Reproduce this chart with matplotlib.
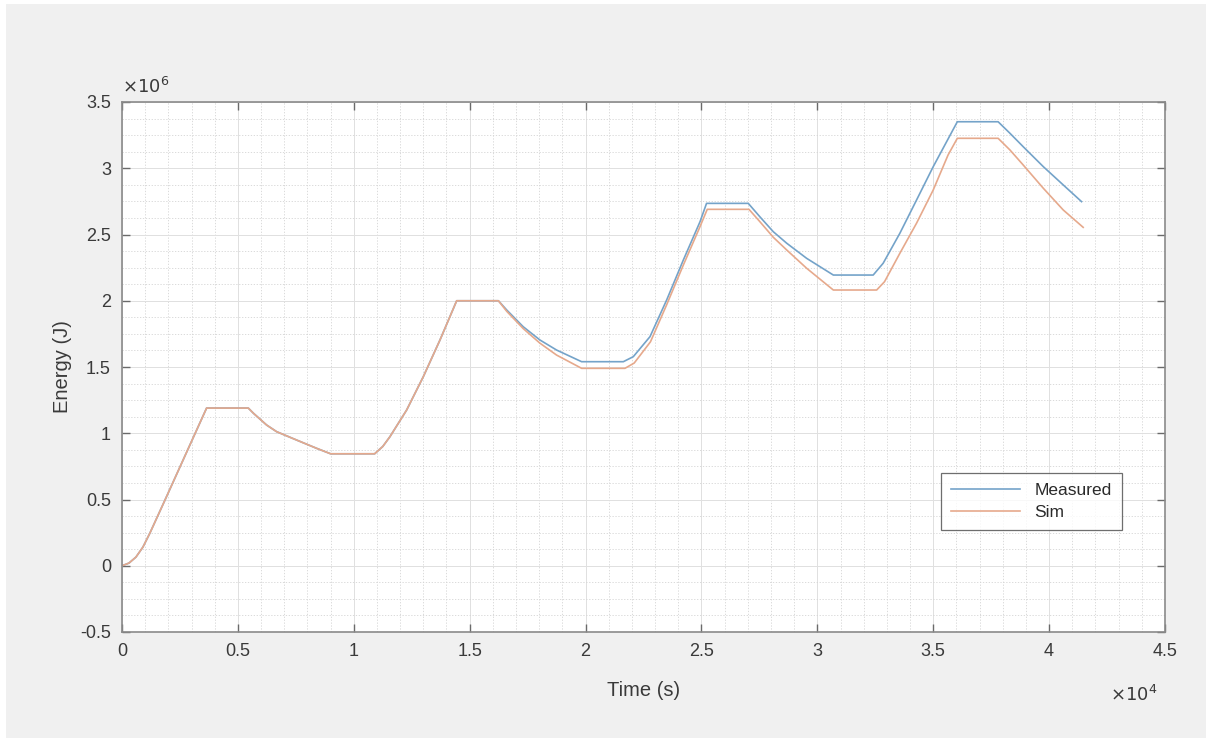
import matplotlib
matplotlib.use("Agg")
import matplotlib.pyplot as plt
from matplotlib.patches import Rectangle
from matplotlib.ticker import MultipleLocator

plt.rcParams['font.family'] = ['Liberation Sans', 'DejaVu Sans']

# ---- data (time in s, energy in J) ----
t_measured = [0, 300, 600, 900, 1200, 1855, 3650, 5450, 5670, 6240, 6670, 7530, 8400, 9000,
              10900, 11250, 11560, 12280, 13000, 13720, 14440, 16240, 16600, 17310, 18030,
              18750, 19830, 21630, 22060, 22780, 23500, 24220, 24940, 25220, 27020, 27520,
              28100, 28680, 29540, 30690, 32410, 32840, 33560, 34280, 35000, 36040, 37800,
              38310, 38880, 39750, 40610, 41400]
e_measured = [0, 0.02e6, 0.065e6, 0.14e6, 0.245e6, 0.496e6, 1.19e6, 1.19e6, 1.151e6, 1.062e6,
              1.012e6, 0.949e6, 0.886e6, 0.845e6, 0.845e6, 0.90e6, 0.974e6, 1.175e6, 1.427e6,
              1.704e6, 2.0e6, 2.0e6, 1.930e6, 1.804e6, 1.704e6, 1.628e6, 1.54e6, 1.54e6,
              1.578e6, 1.729e6, 2.006e6, 2.308e6, 2.597e6, 2.735e6, 2.735e6, 2.634e6, 2.521e6,
              2.434e6, 2.320e6, 2.194e6, 2.194e6, 2.283e6, 2.509e6, 2.760e6, 3.012e6, 3.351e6,
              3.351e6, 3.264e6, 3.163e6, 3.012e6, 2.874e6, 2.748e6]

t_sim = [0, 300, 600, 900, 1200, 1855, 3650, 5450, 5670, 6240, 6670, 7530, 8400, 9000,
         10900, 11250, 11560, 12280, 13000, 13720, 14440, 16240, 16600, 17310, 18030,
         18750, 19830, 21700, 22100, 22800, 23500, 24220, 24940, 25250, 27050, 27520,
         28100, 28680, 29540, 30690, 32560, 32900, 33560, 34280, 35000, 35640, 36040,
         37800, 38310, 38880, 39750, 40610, 41470]
e_sim = [0, 0.02e6, 0.065e6, 0.14e6, 0.245e6, 0.496e6, 1.19e6, 1.19e6, 1.151e6, 1.062e6,
         1.012e6, 0.949e6, 0.886e6, 0.845e6, 0.845e6, 0.90e6, 0.974e6, 1.175e6, 1.427e6,
         1.704e6, 2.0e6, 2.0e6, 1.92e6, 1.79e6, 1.68e6, 1.59e6, 1.49e6, 1.49e6, 1.53e6,
         1.69e6, 1.97e6, 2.27e6, 2.56e6, 2.69e6, 2.69e6, 2.597e6, 2.479e6, 2.383e6, 2.245e6,
         2.081e6, 2.081e6, 2.144e6, 2.358e6, 2.585e6, 2.836e6, 3.10e6, 3.226e6, 3.226e6,
         3.138e6, 3.025e6, 2.849e6, 2.685e6, 2.554e6]

x_ticks = [0, 5000, 10000, 15000, 20000, 25000, 30000, 35000, 40000, 45000]
x_tick_labels = ['0', '0.5', '1', '1.5', '2', '2.5', '3', '3.5', '4', '4.5']
y_ticks = [-0.5e6, 0, 0.5e6, 1e6, 1.5e6, 2e6, 2.5e6, 3e6, 3.5e6]
y_tick_labels = ['-0.5', '0', '0.5', '1', '1.5', '2', '2.5', '3', '3.5']

# ---- figure ----
W, H = 1206, 738
fig = plt.figure(figsize=(W / 100, H / 100), dpi=100, facecolor='white')
fig.patches.append(Rectangle((6 / W, 0), 1 - 6 / W, 1 - 4 / H, transform=fig.transFigure,
                             facecolor='#f0f0f0', edgecolor='none', zorder=-10))

ax = fig.add_axes([122 / W, 1 - 632 / H, (1165 - 122) / W, (632 - 102) / H])
ax.set_facecolor('white')

text_col = '#3a3a3a'
ax.plot(t_measured, e_measured, color='#74a3c9', lw=1.2, label='Measured')
ax.plot(t_sim, e_sim, color='#e6a98c', lw=1.2, label='Sim')

ax.set_xlim(0, 45000)
ax.set_ylim(-0.5e6, 3.5e6)
ax.set_xticks(x_ticks)
ax.set_xticklabels(x_tick_labels)
ax.set_yticks(y_ticks)
ax.set_yticklabels(y_tick_labels)
ax.xaxis.set_minor_locator(MultipleLocator(1000))
ax.yaxis.set_minor_locator(MultipleLocator(0.125e6))

ax.grid(which='major', color='#e0e0e0', lw=0.7)
ax.grid(which='minor', color='#d4d4d4', lw=0.6, ls=(0, (1.5, 2)))
ax.set_axisbelow(True)

for s in ax.spines.values():
    s.set_color('#8a8a8a')
    s.set_linewidth(1.2)

ax.tick_params(which='major', direction='in', length=6, width=1, color='#6a6a6a',
               top=True, right=True, labelsize=13, labelcolor=text_col, pad=8)
ax.tick_params(which='minor', length=0, top=True, right=True)

ax.set_xlabel('Time (s)', fontsize=14.5, color=text_col, labelpad=15)
ax.set_ylabel('Energy (J)', fontsize=14.5, color=text_col, labelpad=6)

ax.text(0.0, 1.01, r'$\times10^{6}$', transform=ax.transAxes, fontsize=13,
        color=text_col, ha='left', va='bottom')
ax.text(0.993, -0.1, r'$\times10^{4}$', transform=ax.transAxes, fontsize=13,
        color=text_col, ha='right', va='top')

leg = ax.legend(loc='lower right', bbox_to_anchor=((1122 - 122) / 1043, (632 - 530) / 530),
                borderaxespad=0, fontsize=12.5, frameon=True, fancybox=False, borderpad=0.6,
                handlelength=4.0, labelspacing=0.35, handletextpad=0.8)
leg.get_frame().set_edgecolor('#4a4a4a')
leg.get_frame().set_linewidth(0.9)
for t in leg.get_texts():
    t.set_color('#2a2a2a')

fig.savefig('out.png', dpi=100, facecolor=fig.get_facecolor())
